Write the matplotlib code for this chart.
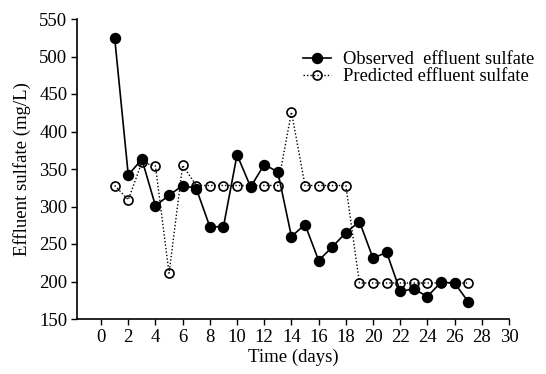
import matplotlib
matplotlib.use("Agg")
import matplotlib.pyplot as plt

days = list(range(1, 28))
observed = [525, 342, 363, 301, 315, 328, 324, 273, 273, 369, 326, 356, 346, 260,
            276, 228, 246, 265, 280, 231, 239, 187, 190, 180, 199, 198, 173]
predicted = [328, 309, 359, 354, 211, 355, 328, 328, 328, 328, 328, 328, 328, 426,
             328, 328, 328, 328, 198, 198, 198, 198, 198, 198, 198, 198, 198]
xticks = list(range(0, 31, 2))
yticks = list(range(150, 551, 50))

plt.rcParams['font.family'] = ['Liberation Serif', 'DejaVu Serif']
plt.rcParams['font.size'] = 13.5

fig = plt.figure(figsize=(5.46, 3.74), dpi=100)
ax = fig.add_axes([77/546, 1-319/374, (509-77)/546, (319-19)/374])

ax.plot(days, observed, '-', color='black', lw=1.2, marker='o', ms=7.2,
        mfc='black', mec='black', label='Observed  effluent sulfate', zorder=3)
ax.plot(days, predicted, linestyle=(0, (1, 1.5)), color='black', lw=1.0, marker='o', ms=6.5,
        mfc='none', mec='black', mew=1.2, label='Predicted effluent sulfate', zorder=2)

ax.set_xlim(-1.77, 30)
ax.set_ylim(150, 550)
ax.set_xticks(xticks)
ax.set_yticks(yticks)
for s in ['top', 'right']:
    ax.spines[s].set_visible(False)
for s in ['left', 'bottom']:
    ax.spines[s].set_linewidth(1.2)
ax.tick_params(direction='out', length=4, width=1.0, pad=3)
ax.set_xlabel('Time (days)', labelpad=2)
ax.set_ylabel('Effluent sulfate (mg/L)', labelpad=6)

ax.legend(loc='upper left', bbox_to_anchor=(0.523, 0.893), frameon=False, fontsize=13.3,
          handlelength=1.5, handletextpad=0.65, labelspacing=0.0, borderpad=0.0,
          borderaxespad=0.0)

fig.savefig('out.png', dpi=100)
